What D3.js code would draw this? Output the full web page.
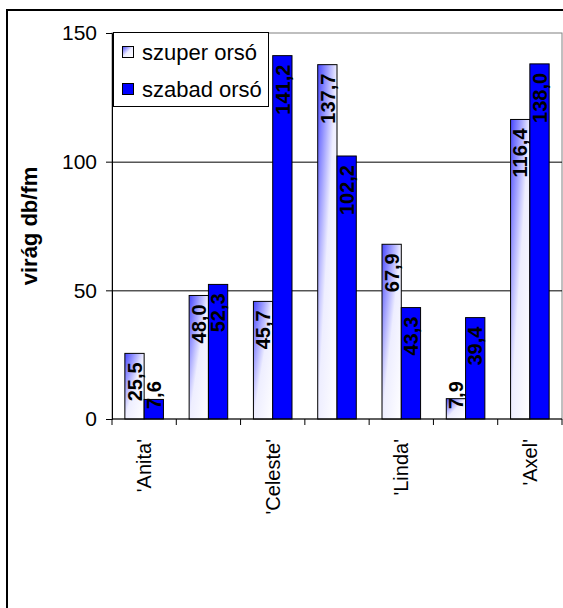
<!DOCTYPE html>
<html>
<head>
<meta charset="utf-8">
<script src="https://cdn.jsdelivr.net/npm/d3@7"></script>
<style>
  html, body { margin: 0; padding: 0; background: #fff; }
  svg { display: block; font-family: Arial, "Liberation Sans", sans-serif; }
</style>
</head>
<body>
<svg id="chart" width="563" height="608"></svg>
<script>
const categories = ["'Anita'", "", "'Celeste'", "", "'Linda'", "", "'Axel'"];
const seriesNames = ["szuper orsó", "szabad orsó"];
const szuper = [25.5, 48.0, 45.7, 137.7, 67.9, 7.9, 116.4];
const szabad = [7.6, 52.3, 141.2, 102.2, 43.3, 39.4, 138.0];
const yTicks = [0, 50, 100, 150];
const yTitle = "virág db/fm";

const series = [szuper, szabad];
const svg = d3.select("#chart");

// gradient
const defs = svg.append("defs");
const g1 = defs.append("linearGradient").attr("id", "gradSz")
  .attr("x1", 0).attr("y1", 0).attr("x2", 1).attr("y2", 1);
g1.append("stop").attr("offset", 0).attr("stop-color", "#4646ff");
g1.append("stop").attr("offset", 0.5).attr("stop-color", "#eeeeff");
g1.append("stop").attr("offset", 1).attr("stop-color", "#ffffff");
const fills = ["url(#gradSz)", "#0000ff"];

// outer frame
svg.append("rect").attr("x", 7).attr("y", 10).attr("width", 600).attr("height", 640)
  .attr("fill", "none").attr("stroke", "#000").attr("stroke-width", 2);

const pLeft = 112, pRight = 562, pTop = 33, pBottom = 419;
const y = d3.scaleLinear().domain([0, 150]).range([pBottom, pTop]);
const x0 = d3.scaleBand().domain(d3.range(categories.length)).range([pLeft, pRight]).padding(0);
const bw = x0.bandwidth();
const x1 = d3.scaleBand().domain(d3.range(series.length)).range([bw * 0.2, bw * 0.8]).padding(0);

// plot border
svg.append("rect").attr("x", pLeft).attr("y", pTop).attr("width", pRight - pLeft).attr("height", pBottom - pTop)
  .attr("fill", "none").attr("stroke", "#808080").attr("stroke-width", 1);

// grid
svg.append("g").selectAll("line").data(yTicks.filter(t => t > 0 && t < 150)).join("line")
  .attr("x1", pLeft).attr("x2", pRight)
  .attr("y1", d => y(d) + 0.5).attr("y2", d => y(d) + 0.5)
  .attr("stroke", "#000").attr("stroke-width", 1);

// bars
const groups = svg.append("g").selectAll("g").data(categories.map((c, i) => i)).join("g")
  .attr("transform", i => `translate(${x0(i)},0)`);
groups.selectAll("rect").data(i => series.map((s, k) => ({k, v: s[i]}))).join("rect")
  .attr("x", d => x1(d.k)).attr("width", x1.bandwidth())
  .attr("y", d => y(d.v)).attr("height", d => y(0) - y(d.v))
  .attr("fill", d => fills[d.k]).attr("stroke", "#000").attr("stroke-width", 1);

// bar labels
const fmt = v => v.toFixed(1).replace(".", ",");
groups.selectAll("text").data(i => series.map((s, k) => ({k, v: s[i]}))).join("text")
  .attr("text-anchor", "end").attr("dy", "0.36em")
  .attr("font-size", 20).attr("font-weight", "bold").attr("fill", "#000")
  .text(d => fmt(d.v))
  .each(function(d) {
    const len = this.getComputedTextLength();
    const topY = Math.min(y(d.v) + 9, y(0) - 10 - len);
    const cx = x1(d.k) + x1.bandwidth() / 2;
    d3.select(this).attr("transform", `translate(${cx},${topY}) rotate(-90)`);
  });

// y axis
const yAxis = d3.axisLeft(y).tickValues(yTicks).tickSize(6).tickPadding(9).tickFormat(d3.format("d"));
const ya = svg.append("g").attr("transform", `translate(${pLeft},0)`).call(yAxis);
ya.select(".domain").attr("stroke", "#000");
ya.selectAll(".tick line").attr("stroke", "#000");
ya.selectAll(".tick text").attr("font-size", 21).attr("fill", "#000")
  .attr("font-family", "Arial, 'Liberation Sans', sans-serif");

// x axis
const xa = svg.append("g").attr("transform", `translate(0,${pBottom})`);
xa.append("line").attr("x1", pLeft).attr("x2", pRight).attr("y1", 0).attr("y2", 0).attr("stroke", "#000");
xa.selectAll("line.tk").data(d3.range(categories.length + 1)).join("line").attr("class", "tk")
  .attr("x1", i => pLeft + i * x0.step()).attr("x2", i => pLeft + i * x0.step())
  .attr("y1", 0).attr("y2", 6).attr("stroke", "#000");
xa.selectAll("text").data(categories.map((c, i) => i)).join("text")
  .attr("transform", i => `translate(${x0(i) + bw / 2},20) rotate(-90)`)
  .attr("text-anchor", "end").attr("dy", "0.36em")
  .attr("font-size", 20).attr("fill", "#000")
  .text(i => categories[i]);

// y title
svg.append("text").attr("transform", `translate(37,${(pTop + pBottom) / 2}) rotate(-90)`)
  .attr("text-anchor", "middle").attr("font-size", 22).attr("font-weight", "bold")
  .text(yTitle);

// legend
const lg = svg.append("g");
lg.append("rect").attr("x", 113.5).attr("y", 32.5).attr("width", 155).attr("height", 74)
  .attr("fill", "#fff").attr("stroke", "#000").attr("stroke-width", 1);
const li = lg.selectAll("g").data(seriesNames).join("g")
  .attr("transform", (d, k) => `translate(0,${52 + k * 37})`);
li.append("rect").attr("x", 122.5).attr("y", -5.5).attr("width", 11).attr("height", 11)
  .attr("fill", (d, k) => fills[k]).attr("stroke", "#000").attr("stroke-width", 1);
li.append("text").attr("x", 142).attr("dy", "0.36em").attr("font-size", 22).text(d => d);
</script>
</body>
</html>
